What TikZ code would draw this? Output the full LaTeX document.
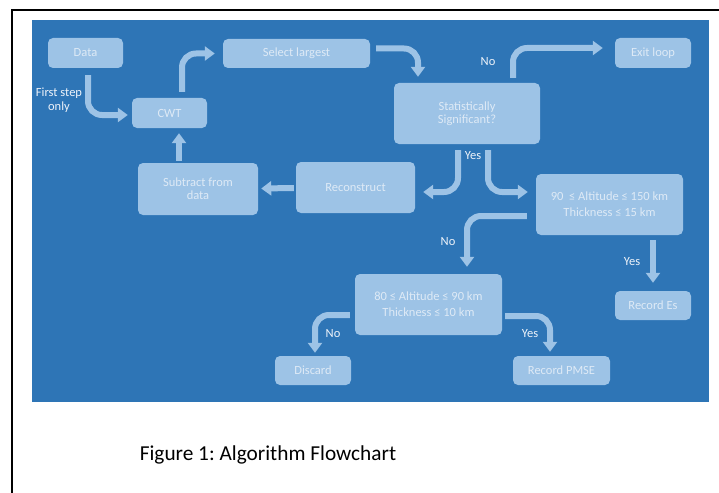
\documentclass[tikz,border=0pt]{standalone}
\usepackage{fontspec}
\setmainfont{Carlito}
\usetikzlibrary{arrows.meta,calc}
\definecolor{bgblue}{RGB}{46,117,182}
\definecolor{boxblue}{RGB}{157,195,230}
\definecolor{boxtext}{RGB}{222,234,246}
\definecolor{lbltext}{RGB}{238,243,250}
\tikzset{
  fbox/.style={fill=boxblue, rounded corners=5pt, text=boxtext, align=center, inner sep=0pt,
    font=\fontsize{12.5}{13}\selectfont},
  arr/.style={draw=boxblue, line width=6pt, rounded corners=14pt,
    -{Triangle[width=14pt,length=10pt]}},
  lbl/.style={text=lbltext, font=\fontsize{12.5}{14}\selectfont, inner sep=0pt, align=center},
}
\frenchspacing
\begin{document}
\frenchspacing
\begin{tikzpicture}[x=1pt,y=-1pt]
\useasboundingbox (0,0) rectangle (719,492);
\fill[white] (0,0) rectangle (719,492);
\draw[black, line width=2pt] (12,500) -- (12,10) -- (730,10);
\fill[bgblue] (32,20) rectangle (709,402);

\node[fbox, minimum width=75pt, minimum height=30pt] (data) at (85.5,53) {Data};
\node[fbox, minimum width=147pt, minimum height=29pt] (sel) at (296.5,53.5) {Select largest};
\node[fbox, minimum width=75pt, minimum height=30pt] (cwt) at (169.5,113) {CWT};
\node[fbox, minimum width=120pt, minimum height=52pt, font=\fontsize{12.5}{13}\selectfont] (sub) at (198,189) {Subtract from\\data};
\node[fbox, minimum width=119pt, minimum height=51pt] (rec) at (355.5,187.5) {Reconstruct};
\node[fbox, minimum width=146pt, minimum height=61pt, font=\fontsize{12.5}{12.5}\selectfont] (stat) at (467,113.5) {Statistically\\Significant?};
\node[fbox, minimum width=76pt, minimum height=30pt] (exit) at (653,53) {Exit loop};
\node[fbox, minimum width=147pt, minimum height=61pt, font=\fontsize{12.5}{16}\selectfont] (alt90) at (609.5,204.5) {90~ ≤ Altitude ≤ 150 km\\Thickness ≤ 15 km};
\node[fbox, minimum width=76pt, minimum height=29pt] (es) at (653,305.5) {Record Es};
\node[fbox, minimum width=147pt, minimum height=61pt, font=\fontsize{12.5}{16}\selectfont] (alt80) at (428.5,304.5) {80 ≤ Altitude ≤ 90 km\\Thickness ≤ 10 km};
\node[fbox, minimum width=97pt, minimum height=29pt] (pmse) at (561.5,370.5) {Record PMSE};
\node[fbox, minimum width=76pt, minimum height=29pt] (disc) at (313,370.5) {Discard};

\draw[arr] ($(data.south)+(2.5,7)$) |- ($(cwt.west)+(-4,2)$);
\draw[arr] ($(cwt.north)+(12.5,-6)$) |- ($(sel.west)+(-8,0)$);
\draw[arr] ($(sel.east)+(6,-5)$) -| ($(stat.north)+(-49,-6)$);
\draw[arr] ($(stat.north)+(46,-5)$) |- ($(exit.west)+(-12,-5)$);
\draw[arr] ($(stat.south)+(-9,6)$) |- ($(rec.east)+(8,4.5)$);
\draw[arr] ($(stat.south)+(21,6)$) |- ($(alt90.west)+(-8,-12.5)$);
\draw[arr] ($(alt90.west)+(-9,11.5)$) -| ($(alt80.north)+(38.5,-7)$);
\draw[arr] ($(alt90.south)+(43.5,5)$) -- ($(es.north)+(0,-8)$);
\draw[arr] ($(alt80.east)+(3,11.5)$) -| ($(pmse.north)+(-11.5,-4)$);
\draw[arr] ($(alt80.west)+(-5,10.5)$) -| ($(disc.north)+(2,-3)$);
\draw[arr] ($(rec.west)+(-2,0.5)$) -- ($(sub.east)+(3,-0.5)$);
\draw[arr] ($(sub.north)+(-19,-2)$) -- ($(cwt.south)+(9.5,5)$);

\node[lbl, font=\fontsize{12.5}{14}\selectfont] (first) at (59,100) {First step\\only};
\node[lbl] (lno1) at (488,62) {No};
\node[lbl] (lyes1) at (473,156) {Yes};
\node[lbl] (lno2) at (448,242) {No};
\node[lbl] (lyes2) at (632,262) {Yes};
\node[lbl] (lyes3) at (530,334) {Yes};
\node[lbl] (lno3) at (333,334) {No};

\node[text=black, font=\fontsize{21.3}{24}\selectfont, inner sep=0pt] (cap) at (268,455) {Figure 1: Algorithm Flowchart};
\end{tikzpicture}
\end{document}
